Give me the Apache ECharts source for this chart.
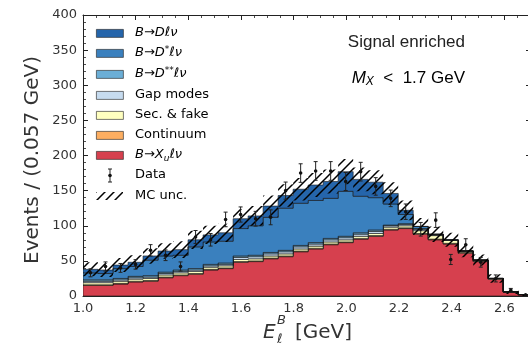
<!DOCTYPE html>
<html><head><meta charset="utf-8">
<script src="https://cdn.jsdelivr.net/npm/echarts@6/dist/echarts.min.js"></script>
<style>html,body{margin:0;padding:0;background:#fff}#c{width:528px;height:347px}</style>
</head><body><div id="c"></div>
<script>
// ---- data ----
const binEdges = [1.000,1.057,1.114,1.171,1.228,1.285,1.342,1.399,1.456,1.513,1.570,1.627,1.684,1.741,1.798,1.855,1.912,1.969,2.026,2.083,2.140,2.197,2.254,2.311,2.368,2.425,2.482,2.539,2.596,2.653,2.710];
// stacked MC components, bottom to top
const bXu      = [15,15,17,20,21,26,29,31,37,39,48,49,53,56,63,67,73,76,81,85,94,96,88,80,74,61,49,24,5.5,2];
const cont     = [1,1,1,1,1,1,1,1,1,1,1,1,1,1,1,1,1,1,1,1,1,1,1,1,1,1,0.5,0,0,0];
const secFake  = [3,3,3,3,3,3,3,3,3,3,3,3,3,3,3,3,3,3,3,3,3,3,4,5,4,2,1.5,1,0.5,0];
const gapModes = [2,2,2,2,2,2,2,2,2,2,3,3,3,3,3,3,3,3,3,3,2,2,2,1,0.5,0,0,0,0,0];
const bDss     = [2,2,2,2,2,2,2,2,2,2,2,2,2,2,2,2,2,2,2,2,1,1,1,0.5,0,0,0,0,0,0];
const bDs      = [10,9,14,14,22,23,21,31,32,31,39,42,50,60,60,60,57,64,52,46,30,13,3,0.5,0.5,0,0,0,0,0];
const bD       = [5,5,5,6,6,7,8,10,10,12,14,14,16,18,20,22,24,28,24,22,15,6,0,0,0,0,0,0,0,0];
const mcUnc    = [10,10,10,10,11,11,12,13,13,13,14,14,15,16,16,17,17,18,17,17,16,14,12,11,10,9,8,6,3,2];
const dataVal  = [33,42,40,45,65,58,42,84,80,109,116,110,112,150,175,178,178,163,177,156,139,120,95,108,52,73,48,25,8,1];
const dataErr  = [5.7,6.5,6.3,6.7,8.1,7.6,6.5,9.2,8.9,10.4,10.8,10.5,10.6,12.2,13.2,13.3,13.3,12.8,13.3,12.5,11.8,11,9.7,10.4,7.2,8.5,6.9,5,2.8,1];
const xTicks = [1.0,1.2,1.4,1.6,1.8,2.0,2.2,2.4,2.6];

const layerNames  = ['B→X_uℓν','Continuum','Sec. & fake','Gap modes','B→D**ℓν','B→D*ℓν','B→Dℓν'];
const layerData   = [bXu, cont, secFake, gapModes, bDss, bDs, bD];
const layerColors = ['#d6404e','#fdae61','#ffffbf','#c6dbef','#6baed6','#3a80be','#2565ab'];

const n = bXu.length;
const cum = [new Array(n).fill(0)];
layerData.forEach((arr,k)=>{ cum.push(cum[k].map((v,i)=>v+arr[i])); });
const total = cum[cum.length-1];

// hatch pattern
const T = 9;
const pc = document.createElement('canvas'); pc.width = T; pc.height = T;
const g = pc.getContext('2d'); g.strokeStyle = '#000'; g.lineWidth = 1.5;
g.beginPath(); g.moveTo(0,T); g.lineTo(T,0); g.moveTo(-2,2); g.lineTo(2,-2); g.moveTo(T-2,T+2); g.lineTo(T+2,T-2); g.stroke();
const hatch = {image: pc, repeat: 'repeat'};

function layerSeries(k){
  return {
    type:'custom', name: layerNames[k], clip:true, z: 2+k,
    data:[[binEdges[0],0]],
    renderItem:(params, api)=>{
      const lo = cum[k], hi = cum[k+1], pts=[];
      for(let i=0;i<n;i++){ pts.push(api.coord([binEdges[i],hi[i]])); pts.push(api.coord([binEdges[i+1],hi[i]])); }
      for(let i=n-1;i>=0;i--){ pts.push(api.coord([binEdges[i+1],lo[i]])); pts.push(api.coord([binEdges[i],lo[i]])); }
      return {type:'polygon', shape:{points:pts}, style:{fill:layerColors[k], stroke:'rgba(20,20,20,0.75)', lineWidth:0.8}};
    }
  };
}
const series = layerData.map((_,k)=>layerSeries(k));
series.push({
  type:'custom', name:'MC unc.', clip:true, z:20,
  data:[[binEdges[0],0]],
  renderItem:(params, api)=>{
    const pts=[];
    for(let i=0;i<n;i++){ pts.push(api.coord([binEdges[i],total[i]+mcUnc[i]])); pts.push(api.coord([binEdges[i+1],total[i]+mcUnc[i]])); }
    for(let i=n-1;i>=0;i--){ pts.push(api.coord([binEdges[i+1],total[i]-mcUnc[i]])); pts.push(api.coord([binEdges[i],total[i]-mcUnc[i]])); }
    return {type:'polygon', shape:{points:pts}, style:{fill:hatch, stroke:null}};
  }
});
series.push({
  type:'custom', name:'Data', clip:true, z:30,
  data: dataVal.map((v,i)=>[(binEdges[i]+binEdges[i+1])/2, v, dataErr[i]]),
  renderItem:(params, api)=>{
    const x = api.value(0), y = api.value(1), e = api.value(2);
    const p = api.coord([x,y]), t = api.coord([x,y+e]), b = api.coord([x,y-e]);
    const st = {stroke:'#222', lineWidth:1};
    return {type:'group', children:[
      {type:'line', shape:{x1:p[0],y1:t[1],x2:p[0],y2:b[1]}, style:st},
      {type:'line', shape:{x1:p[0]-2,y1:t[1],x2:p[0]+2,y2:t[1]}, style:st},
      {type:'line', shape:{x1:p[0]-2,y1:b[1],x2:p[0]+2,y2:b[1]}, style:st},
      {type:'circle', shape:{cx:p[0],cy:p[1],r:1.8}, style:{fill:'#111'}}
    ]};
  }
});

const axisCol = '#222';
function xAx(pos, labels){
  return {type:'value', min:1.0, max:2.8, interval:0.2, position:pos,
    axisLine:{show:true, onZero:false, lineStyle:{color:axisCol,width:1}},
    axisTick:{show:true, inside:true, length:5, lineStyle:{color:axisCol,width:1}},
    minorTick:{show:true, splitNumber:4, length:3, lineStyle:{color:axisCol,width:0.8}},
    splitLine:{show:false},
    axisLabel:{show:labels, margin:6, color:'#333', fontSize:13, fontFamily:'DejaVu Sans',
      formatter:v=>{ const t = xTicks.find(q=>Math.abs(q-v)<1e-6); return t===undefined?'':t.toFixed(1);} }};
}
function yAx(pos, labels, offset){
  return {type:'value', min:0, max:400, interval:50, position:pos, offset:offset,
    axisLine:{show:true, onZero:false, lineStyle:{color:axisCol,width:1}},
    axisTick:{show:true, inside:true, length:5, lineStyle:{color:axisCol,width:1}},
    minorTick:{show:true, splitNumber:5, length:3, lineStyle:{color:axisCol,width:0.8}},
    splitLine:{show:false},
    axisLabel:{show:labels, margin:6, color:'#333', fontSize:13, fontFamily:'DejaVu Sans'}};
}

const legFont = 'DejaVu Sans';
const rich = {
  n:{fontFamily:legFont, fontSize:13, lineHeight:16, color:'#222'},
  i:{fontFamily:legFont, fontSize:13, lineHeight:16, fontStyle:'italic', color:'#222'},
  sup:{fontFamily:legFont, fontSize:9, lineHeight:9, verticalAlign:'top', color:'#222'},
  sub:{fontFamily:legFont, fontSize:9, lineHeight:9, verticalAlign:'bottom', fontStyle:'italic', color:'#222'}
};
const legendRows = [
  {y:33, c:layerColors[6], t:'{i|B}{n|→}{i|Dℓν}'},
  {y:53, c:layerColors[5], t:'{i|B}{n|→}{i|D}{sup|*}{i|ℓν}'},
  {y:74, c:layerColors[4], t:'{i|B}{n|→}{i|D}{sup|**}{i|ℓν}'},
  {y:95, c:layerColors[3], t:'{n|Gap modes}'},
  {y:115, c:layerColors[2], t:'{n|Sec. & fake}'},
  {y:135, c:layerColors[1], t:'{n|Continuum}'},
  {y:155, c:layerColors[0], t:'{i|B}{n|→}{i|X}{sub|u}{i|ℓν}'}
];
const graphic = [];
legendRows.forEach(r=>{
  graphic.push({type:'rect', left:96, top:r.y-4, shape:{width:27,height:8}, style:{fill:r.c, stroke:'rgba(40,40,40,0.8)', lineWidth:0.8}, z:50});
  graphic.push({type:'text', x:135, y:r.y, style:{text:r.t, rich:rich, verticalAlign:'middle', align:'left'}, z:50});
});
// Data legend entry
graphic.push({type:'line', shape:{x1:110,y1:169,x2:110,y2:182}, style:{stroke:'#222',lineWidth:1}, z:50});
graphic.push({type:'line', shape:{x1:108,y1:169,x2:112,y2:169}, style:{stroke:'#222',lineWidth:1}, z:50});
graphic.push({type:'line', shape:{x1:108,y1:182,x2:112,y2:182}, style:{stroke:'#222',lineWidth:1}, z:50});
graphic.push({type:'circle', shape:{cx:110,cy:175.5,r:1.8}, style:{fill:'#111'}, z:50});
graphic.push({type:'text', x:135, y:175, style:{text:'{n|Data}', rich:rich, verticalAlign:'middle'}, z:50});
// MC unc legend entry
graphic.push({type:'rect', left:96, top:192, shape:{width:27,height:8}, style:{fill:hatch}, z:50});
graphic.push({type:'text', x:135, y:196, style:{text:'{n|MC unc.}', rich:rich, verticalAlign:'middle'}, z:50});
// annotations
graphic.push({type:'text', x:465, y:42, style:{text:'Signal enriched', font:'17px "Liberation Sans"', fill:'#222', align:'right', verticalAlign:'middle'}, z:50});
graphic.push({type:'text', x:465, y:78, style:{text:'{m|M}{s|X}{t|  <  1.7 GeV}', align:'right', verticalAlign:'middle',
  rich:{m:{fontFamily:'Liberation Sans',fontSize:17,fontStyle:'italic',lineHeight:20,color:'#222'},
        s:{fontFamily:'Liberation Sans',fontSize:12,fontStyle:'italic',lineHeight:12,verticalAlign:'bottom',color:'#222'},
        t:{fontFamily:'Liberation Sans',fontSize:17,lineHeight:20,color:'#222'}}}, z:50});
// axis titles
graphic.push({type:'text', x:33, y:160, rotation:Math.PI/2, style:{text:'Events / (0.057 GeV)', font:'20px "DejaVu Sans"', fill:'#333', align:'center', verticalAlign:'middle'}, z:50});
graphic.push({type:'text', x:263, y:333, style:{text:'E', font:'italic 20px "DejaVu Sans"', fill:'#333', align:'left', verticalAlign:'middle'}, z:50});
graphic.push({type:'text', x:277, y:321, style:{text:'B', font:'italic 13px "DejaVu Sans"', fill:'#333', align:'left', verticalAlign:'middle'}, z:50});
graphic.push({type:'text', x:277, y:340, style:{text:'ℓ', font:'italic 13px "DejaVu Sans"', fill:'#333', align:'left', verticalAlign:'middle'}, z:50});
graphic.push({type:'text', x:295, y:333, style:{text:'[GeV]', font:'20px "DejaVu Sans"', fill:'#333', align:'left', verticalAlign:'middle'}, z:50});

const chart = echarts.init(document.getElementById('c'), null, {renderer:'canvas'});
chart.setOption({
  animation:false,
  backgroundColor:'#fff',
  grid:{left:83, top:15, width:474, height:281, containLabel:false, outerBoundsMode:'none'},
  xAxis:[xAx('bottom',true), xAx('top',false)],
  yAxis:[yAx('left',true,0), yAx('right',false,-26)],
  series: series,
  graphic: graphic
});
</script>
</body></html>
